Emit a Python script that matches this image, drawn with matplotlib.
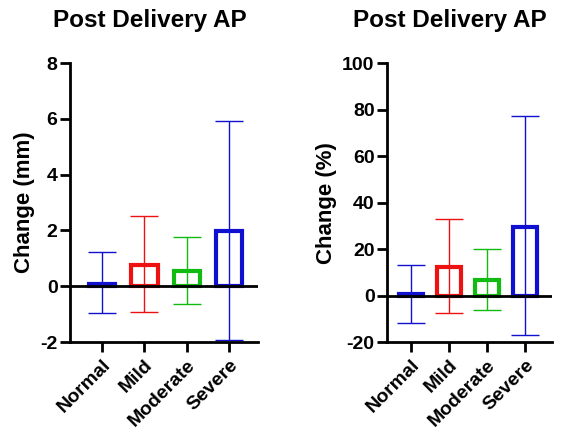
import matplotlib.pyplot as plt
import numpy as np

plt.rcParams['font.family'] = ['Liberation Sans', 'DejaVu Sans']
plt.rcParams['font.weight'] = 'bold'
plt.rcParams['axes.unicode_minus'] = False

groups = ["Normal", "Mild", "Moderate", "Severe"]
colors = ["#1010d0", "#ee1111", "#11bb11", "#1010d0"]

# change in mm
mm_mean = [0.08, 0.77, 0.56, 1.97]
mm_low = [-0.96, -0.93, -0.62, -1.92]
mm_high = [1.24, 2.53, 1.77, 5.93]

# change in percent
pct_mean = [0.6, 12.5, 6.9, 29.7]
pct_low = [-11.8, -7.5, -6.0, -17.1]
pct_high = [13.1, 33.1, 20.1, 77.3]


def draw(ax, mean, low, high, ylim, yticks, ylabel, xlim):
    x = np.arange(len(groups))
    mean = np.array(mean)
    for i in x:
        ax.errorbar(i, mean[i], yerr=[[mean[i] - low[i]], [high[i] - mean[i]]],
                    color=colors[i], elinewidth=1, capsize=10, capthick=1, zorder=2)
        ax.bar(i, mean[i], width=0.62, facecolor='none', edgecolor=colors[i],
               linewidth=3, zorder=3)
    ax.axhline(0, color='black', linewidth=2, zorder=4)
    ax.set_xlim(*xlim)
    ax.set_ylim(*ylim)
    ax.set_yticks(yticks)
    ax.set_xticks(x)
    ax.set_xticklabels(groups, rotation=45, ha='right', rotation_mode='anchor',
                       fontsize=14, fontweight='bold')
    ax.tick_params(axis='y', labelsize=14, width=2, length=7, pad=2)
    ax.tick_params(axis='x', width=2, length=7)
    ax.spines['top'].set_visible(False)
    ax.spines['right'].set_visible(False)
    ax.spines['left'].set_linewidth(2)
    ax.spines['bottom'].set_linewidth(2)
    ax.set_ylabel(ylabel, fontsize=16, fontweight='bold')


fig = plt.figure(figsize=(5.65, 4.38), dpi=100)
ax1 = fig.add_axes([0.124, 0.219, 0.333, 0.637])
ax2 = fig.add_axes([0.685, 0.219, 0.292, 0.637])

draw(ax1, mm_mean, mm_low, mm_high, (-2, 8), [-2, 0, 2, 4, 6, 8], "Change (mm)", (-0.75, 3.68))
draw(ax2, pct_mean, pct_low, pct_high, (-20, 100), [-20, 0, 20, 40, 60, 80, 100], "Change (%)", (-0.63, 3.71))

fig.text(150 / 565, 1 - 20 / 438, "Post Delivery AP", fontsize=17.5, fontweight='bold',
         ha='center', va='center')
fig.text(450 / 565, 1 - 20 / 438, "Post Delivery AP", fontsize=17.5, fontweight='bold',
         ha='center', va='center')

fig.savefig("out.png", dpi=100)
